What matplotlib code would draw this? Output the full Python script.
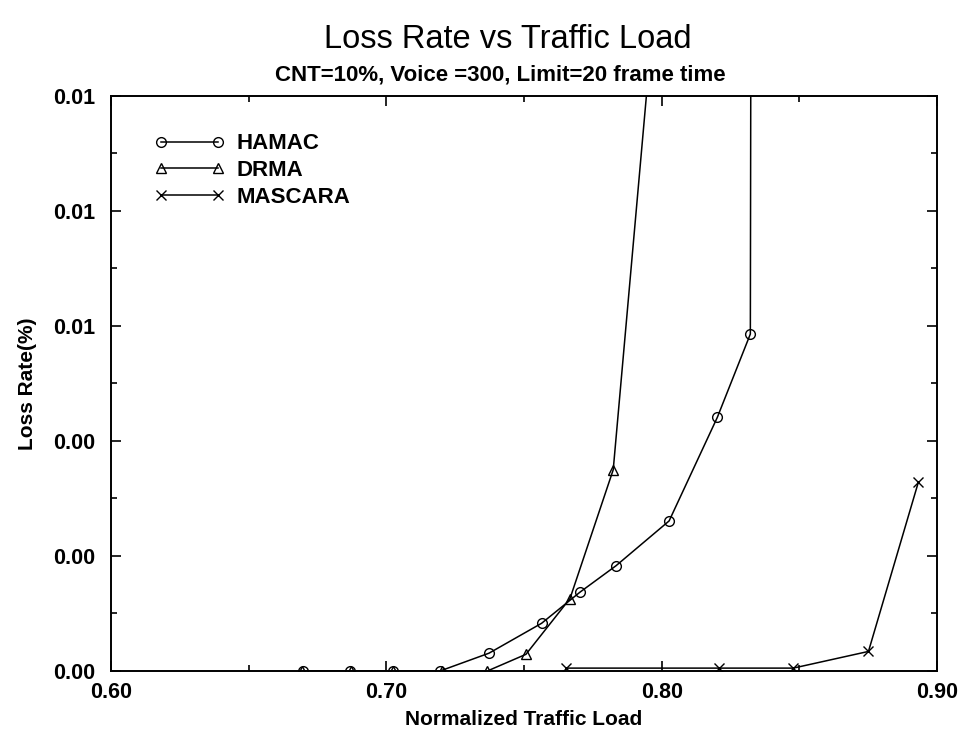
import matplotlib
matplotlib.use('Agg')
import matplotlib.pyplot as plt
from matplotlib.ticker import MultipleLocator, FormatStrFormatter

plt.rcParams['font.family'] = ['Liberation Sans', 'DejaVu Sans']

# data (last points of HAMAC/DRMA go off the top)
hamac_x = [0.6697, 0.6868, 0.7024, 0.7195, 0.7373, 0.7564, 0.7703, 0.7834, 0.8027, 0.8202, 0.8322, 0.8327]
hamac_y = [0.0, 0.0, 0.0, 0.0, 0.00031, 0.00083, 0.00137, 0.00183, 0.00261, 0.00441, 0.00586, 0.0200]

drma_x = [0.6693, 0.6871, 0.7025, 0.7203, 0.7367, 0.7507, 0.7667, 0.7824, 0.7988]
drma_y = [0.0, 0.0, 0.0, 0.0, 0.0, 0.00029, 0.00126, 0.00350, 0.01235]

mascara_x = [0.7653, 0.8209, 0.8478, 0.8751, 0.8932]
mascara_y = [0.00005, 0.00005, 0.00005, 0.00034, 0.00328]

fig = plt.figure(figsize=(9.67, 7.31), dpi=100)
ax = fig.add_axes([0.1148, 0.0821, 0.8542, 0.7866])

style = dict(color='black', lw=1.1, markersize=7, markerfacecolor='none', markeredgewidth=1.0)
ax.plot(hamac_x, hamac_y, marker='o', label='HAMAC', **style)
ax.plot(drma_x, drma_y, marker='^', label='DRMA', **style)
ax.plot(mascara_x, mascara_y, marker='x', label='MASCARA', **style)

ax.set_xlim(0.60, 0.90)
ax.set_ylim(0.0, 0.01)
ax.xaxis.set_major_locator(MultipleLocator(0.10))
ax.xaxis.set_minor_locator(MultipleLocator(0.05))
ax.yaxis.set_major_locator(MultipleLocator(0.002))
ax.yaxis.set_minor_locator(MultipleLocator(0.001))
ax.xaxis.set_major_formatter(FormatStrFormatter('%.2f'))
ax.yaxis.set_major_formatter(FormatStrFormatter('%.2f'))
ax.tick_params(which='both', direction='in', top=True, right=True, width=1.2)
ax.tick_params(which='major', length=7, labelsize=15.5)
ax.tick_params(axis='y', which='major', pad=11)
ax.tick_params(axis='x', which='major', pad=8)
ax.tick_params(which='minor', length=4)
for lab in ax.get_xticklabels() + ax.get_yticklabels():
    lab.set_fontweight('bold')
for s in ax.spines.values():
    s.set_linewidth(1.4)

ax.set_xlabel('Normalized Traffic Load', fontsize=15, fontweight='bold', labelpad=5)
ax.set_ylabel('Loss Rate(%)', fontsize=15, fontweight='bold', labelpad=12)

fig.text(0.525, 0.946, 'Loss Rate vs Traffic Load', ha='center', va='center', fontsize=23.5)
fig.text(0.517, 0.898, 'CNT=10%, Voice =300, Limit=20 frame time', ha='center', va='center',
         fontsize=16, fontweight='bold')

ax.legend(loc='upper left', bbox_to_anchor=(0.052, 0.935), frameon=False, numpoints=2,
          borderpad=0, borderaxespad=0, handlelength=3.2, handletextpad=0.5,
          labelspacing=0.26, prop={'size': 16, 'weight': 'bold'})

fig.savefig('out.png', dpi=100)
